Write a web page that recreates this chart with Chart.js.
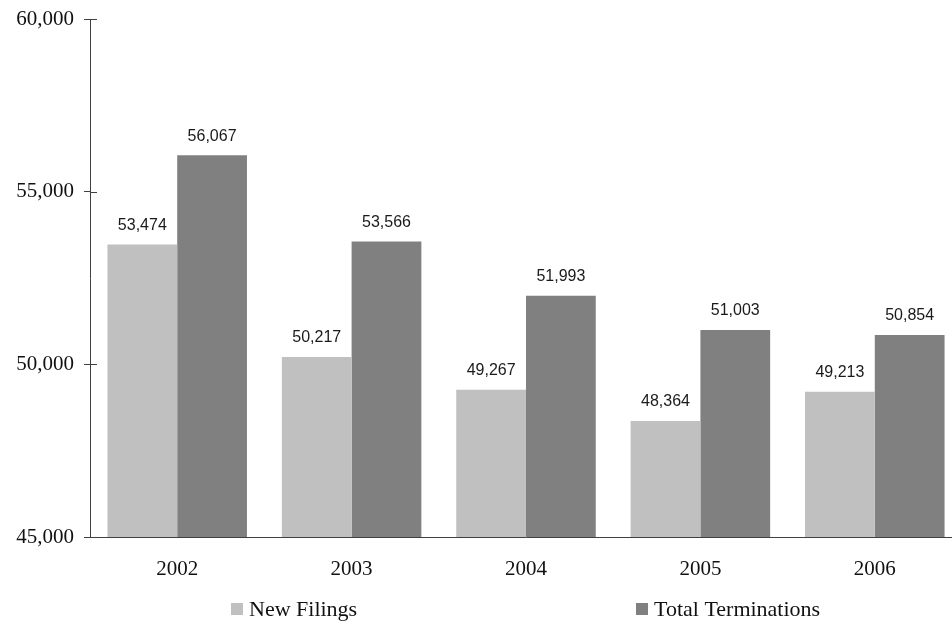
<!DOCTYPE html>
<html>
<head>
<meta charset="utf-8">
<script src="https://cdn.jsdelivr.net/npm/chart.js@4"></script>
<style>
  html, body { margin: 0; padding: 0; background: #fff; }
  #wrap { width: 952px; height: 627px; overflow: hidden; }
</style>
</head>
<body>
<div id="wrap"><canvas id="bars" width="962" height="627"></canvas></div>
<script>
const years = ['2002', '2003', '2004', '2005', '2006'];
const newFilings = [53474, 50217, 49267, 48364, 49213];
const totalTerminations = [56067, 53566, 51993, 51003, 50854];
const yTicks = [45000, 50000, 55000, 60000];

const serif = '"Liberation Serif", "Times New Roman", serif';
const sans = '"Liberation Sans", Arial, sans-serif';
const axisColor = '#404040';

// value labels above each bar
const valueLabels = {
  id: 'valueLabels',
  afterDatasetsDraw(chart) {
    const ctx = chart.ctx;
    ctx.save();
    ctx.font = '16px ' + sans;
    ctx.fillStyle = '#1a1a1a';
    ctx.textAlign = 'center';
    ctx.textBaseline = 'bottom';
    chart.data.datasets.forEach((ds, di) => {
      chart.getDatasetMeta(di).data.forEach((bar, i) => {
        ctx.fillText(ds.data[i].toLocaleString('en-US'), bar.x, bar.y - 11);
      });
    });
    ctx.restore();
  }
};

// inner half of the y ticks (they cross the axis line)
const innerTicks = {
  id: 'innerTicks',
  afterDraw(chart) {
    const y = chart.scales.y;
    const ctx = chart.ctx;
    ctx.save();
    ctx.strokeStyle = axisColor;
    ctx.lineWidth = 1;
    y.ticks.forEach(t => {
      if (t.value === y.min) return;
      const py = Math.round(y.getPixelForValue(t.value)) + 0.5;
      ctx.beginPath();
      ctx.moveTo(y.right, py);
      ctx.lineTo(y.right + 7, py);
      ctx.stroke();
    });
    ctx.restore();
  }
};

// legend spread across the bottom
const spreadLegend = {
  id: 'spreadLegend',
  afterDraw(chart) {
    const ctx = chart.ctx;
    const w = chart.width;
    const spots = [0.240, 0.661];
    const cy = chart.height - 18;
    ctx.save();
    ctx.font = '22px ' + serif;
    ctx.textBaseline = 'middle';
    chart.data.datasets.forEach((ds, i) => {
      const x = Math.round(w * spots[i]);
      ctx.fillStyle = ds.backgroundColor;
      ctx.fillRect(x, cy - 6, 12, 12);
      ctx.fillStyle = '#111';
      ctx.fillText(ds.label, x + 18, cy + 1);
    });
    ctx.restore();
  }
};

new Chart(document.getElementById('bars'), {
  type: 'bar',
  data: {
    labels: years,
    datasets: [
      { label: 'New Filings', data: newFilings, backgroundColor: '#c0c0c0' },
      { label: 'Total Terminations', data: totalTerminations, backgroundColor: '#808080' }
    ]
  },
  options: {
    responsive: false,
    animation: false,
    layout: { padding: { top: 3, right: 0, bottom: 40, left: 0 } },
    datasets: { bar: { categoryPercentage: 0.80, barPercentage: 1.0 } },
    plugins: { legend: { display: false }, tooltip: { enabled: false } },
    scales: {
      x: {
        grid: { display: false, drawTicks: false },
        border: { color: axisColor, width: 1 },
        ticks: { color: '#111', font: { family: serif, size: 21 }, padding: 20 },
        afterFit(s) { s.height = 50; }
      },
      y: {
        min: 45000,
        max: 60000,
        afterBuildTicks(s) { s.ticks = yTicks.map(v => ({ value: v })); },
        grid: { drawOnChartArea: false, drawTicks: true, tickLength: 6, color: axisColor },
        border: { color: axisColor, width: 1 },
        ticks: {
          color: '#111',
          font: { family: serif, size: 21, lineHeight: 0.9 },
          padding: 10,
          callback: v => v.toLocaleString('en-US')
        },
        afterFit(s) { s.width = 90; }
      }
    }
  },
  plugins: [valueLabels, innerTicks, spreadLegend]
});
</script>
</body>
</html>
